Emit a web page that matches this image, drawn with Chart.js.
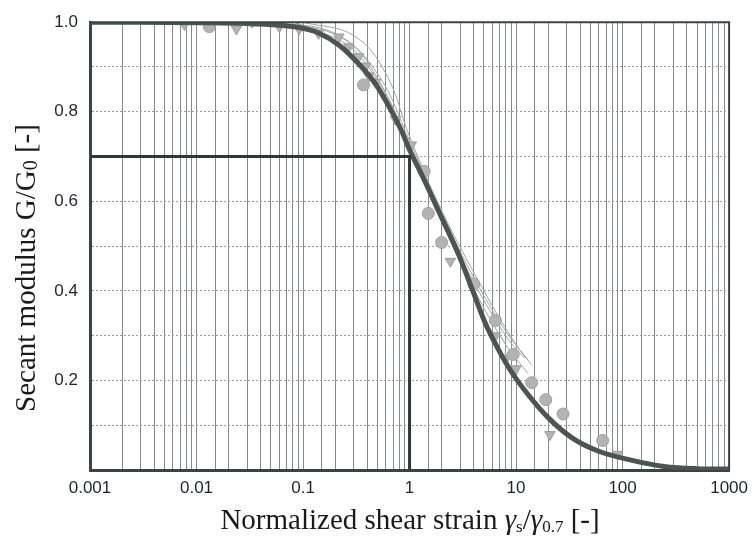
<!DOCTYPE html>
<html>
<head>
<meta charset="utf-8">
<script src="https://cdn.jsdelivr.net/npm/chart.js@4"></script>
<style>
  html, body { margin: 0; padding: 0; background: #fff; }
  #wrap { width: 756px; height: 536px; }
</style>
</head>
<body>
<div id="wrap"><canvas id="myCanvas" width="756" height="536"></canvas></div>
<script>
// tick labels
const xTickLabels = ['0.001', '0.01', '0.1', '1', '10', '100', '1000'];
const yTickLabels = ['0.2', '0.4', '0.6', '0.8', '1.0'];

// fitted curve (thick)
const curveX = [0.001, 0.003, 0.01, 0.03, 0.06, 0.092, 0.14, 0.22, 0.33, 0.48, 0.64, 0.85, 1.0, 1.3, 1.9, 2.9, 4.0, 5.1, 6.8, 9.0, 13, 20, 33, 58, 120, 245, 500, 1000];
const curveY = [1.0, 1.0, 0.999, 0.997, 0.993, 0.988, 0.976, 0.948, 0.908, 0.862, 0.812, 0.755, 0.715, 0.66, 0.575, 0.48, 0.395, 0.33, 0.27, 0.22, 0.168, 0.117, 0.073, 0.043, 0.022, 0.008, 0.003, 0.002];

// individual test curves (thin)
const thinAX = [0.05, 0.2, 0.5, 1, 2, 4, 8, 13];
const thinAY = [1.0, 0.975, 0.885, 0.735, 0.575, 0.43, 0.31, 0.245];
const thinBX = [0.03, 0.2, 0.5, 1, 2, 4, 8, 13];
const thinBY = [1.0, 0.965, 0.87, 0.72, 0.555, 0.405, 0.28, 0.215];
const thinCX = [0.1, 0.3, 0.6, 1, 2, 5, 10, 14];
const thinCY = [1.0, 0.97, 0.885, 0.745, 0.58, 0.4, 0.28, 0.235];
const thinDX = [0.08, 0.25, 0.5, 1, 2, 4, 8, 12];
const thinDY = [1.0, 0.96, 0.875, 0.725, 0.565, 0.42, 0.3, 0.25];

// test points
const circleX = [0.0132, 0.37, 1.37, 1.5, 2.0, 4.0, 6.4, 9.4, 14.0, 19, 27.6, 65];
const circleY = [0.99, 0.86, 0.667, 0.573, 0.508, 0.416, 0.334, 0.258, 0.195, 0.157, 0.125, 0.066];
const triangleX = [0.0077, 0.0237, 0.0333, 0.06, 0.092, 0.14, 0.217, 0.269, 0.333, 0.388, 0.414, 0.481, 0.74, 1.04, 2.42, 6.4, 8.1, 10, 20.8, 90];
const triangleY = [0.995, 0.985, 1.0, 0.99, 0.985, 0.975, 0.967, 0.945, 0.923, 0.902, 0.88, 0.866, 0.783, 0.726, 0.466, 0.30, 0.25, 0.226, 0.079, 0.035];

// reference lines at G/G0 = 0.7 and gamma/gamma0.7 = 1
const refX = [0.001, 1, 1];
const refY = [0.7, 0.7, 0];

const pts = (xs, ys) => xs.map((x, i) => ({ x: x, y: ys[i] }));

const thinLine = (xs, ys) => ({
  data: pts(xs, ys),
  borderColor: '#a3a6a4',
  borderWidth: 1,
  pointRadius: 0,
  showLine: true,
  tension: 0.4
});

const titles = {
  id: 'titles',
  afterDraw(chart) {
    const ctx = chart.ctx;
    const serif = '"Liberation Serif", "DejaVu Serif", serif';
    const drawPieces = (pieces, cx, cy) => {
      let total = 0;
      pieces.forEach(p => { ctx.font = p.f; total += ctx.measureText(p.t).width; });
      let x = cx - total / 2;
      pieces.forEach(p => {
        ctx.font = p.f;
        ctx.fillText(p.t, x, cy + (p.dy || 0));
        x += ctx.measureText(p.t).width;
      });
    };
    ctx.save();
    ctx.fillStyle = '#1a1a1a';
    ctx.textBaseline = 'alphabetic';
    ctx.textAlign = 'left';
    const big = '29px ' + serif;
    const ital = 'italic 29px ' + serif;
    const small = '17px ' + serif;
    drawPieces([
      { t: 'Normalized shear strain ', f: big },
      { t: 'γ', f: ital },
      { t: 's', f: small, dy: 3 },
      { t: '/', f: big },
      { t: 'γ', f: ital },
      { t: '0.7', f: small, dy: 3 },
      { t: ' [-]', f: big }
    ], 410, 529);
    ctx.translate(35, 268);
    ctx.rotate(-Math.PI / 2);
    drawPieces([
      { t: 'Secant modulus G/G', f: big },
      { t: '0', f: '20px ' + serif, dy: 2 },
      { t: ' [-]', f: big }
    ], 0, 0);
    ctx.restore();

    // frame around the plot
    const a = chart.chartArea;
    ctx.save();
    ctx.strokeStyle = '#3a4440';
    ctx.lineWidth = 2;
    ctx.beginPath();
    ctx.moveTo(a.left, a.top);
    ctx.lineTo(a.right, a.top);
    ctx.lineTo(a.right, a.bottom);
    ctx.stroke();
    ctx.restore();
  }
};

const ctx = document.getElementById('myCanvas').getContext('2d');
const chart = new Chart(ctx, {
  type: 'scatter',
  data: {
    datasets: [
      {
        data: pts(refX, refY),
        borderColor: '#2d3833',
        borderWidth: 3,
        pointRadius: 0,
        showLine: true
      },
      {
        data: pts(curveX, curveY),
        borderColor: '#4a5450',
        borderWidth: 5,
        pointRadius: 0,
        showLine: true,
        tension: 0.4,
        cubicInterpolationMode: 'monotone'
      },
      {
        data: pts(circleX, circleY),
        pointStyle: 'circle',
        pointRadius: 6,
        backgroundColor: '#b3b3b3',
        borderColor: '#a0a0a0',
        borderWidth: 1
      },
      {
        data: pts(triangleX, triangleY),
        pointStyle: 'triangle',
        rotation: 180,
        pointRadius: 6,
        backgroundColor: '#b3b3b3',
        borderColor: '#9c9c9c',
        borderWidth: 1
      },
      thinLine(thinAX, thinAY),
      thinLine(thinBX, thinBY),
      thinLine(thinCX, thinCY),
      thinLine(thinDX, thinDY)
    ]
  },
  options: {
    responsive: false,
    animation: false,
    layout: { padding: { left: 0, top: 13, right: 24, bottom: 0 } },
    scales: {
      x: {
        type: 'logarithmic',
        min: 0.001,
        max: 1000,
        afterFit: s => { s.height = 66; },
        grid: { color: '#868b88', lineWidth: 1, drawTicks: false },
        border: { color: '#3a4440', width: 3 },
        ticks: {
          autoSkip: false,
          maxRotation: 0,
          padding: 8,
          color: '#1b2430',
          font: { family: '"Liberation Sans", Arial, sans-serif', size: 17 },
          callback: v => {
            const p = Math.log10(v);
            if (Math.abs(p - Math.round(p)) > 1e-6) return '';
            return xTickLabels[Math.round(p) + 3] || '';
          }
        }
      },
      y: {
        min: 0,
        max: 1,
        afterFit: s => { s.width = 90; },
        grid: { color: '#9a9a9a', lineWidth: 1, drawTicks: false },
        border: { color: '#3a4440', width: 3, dash: [2, 2] },
        ticks: {
          stepSize: 0.1,
          autoSkip: false,
          padding: 12,
          color: '#1b2430',
          font: { family: '"Liberation Sans", Arial, sans-serif', size: 17 },
          callback: v => {
            const s = v.toFixed(1);
            return yTickLabels.includes(s) ? s : '';
          }
        }
      }
    },
    plugins: {
      legend: { display: false },
      tooltip: { enabled: false }
    }
  },
  plugins: [titles]
});
</script>
</body>
</html>
